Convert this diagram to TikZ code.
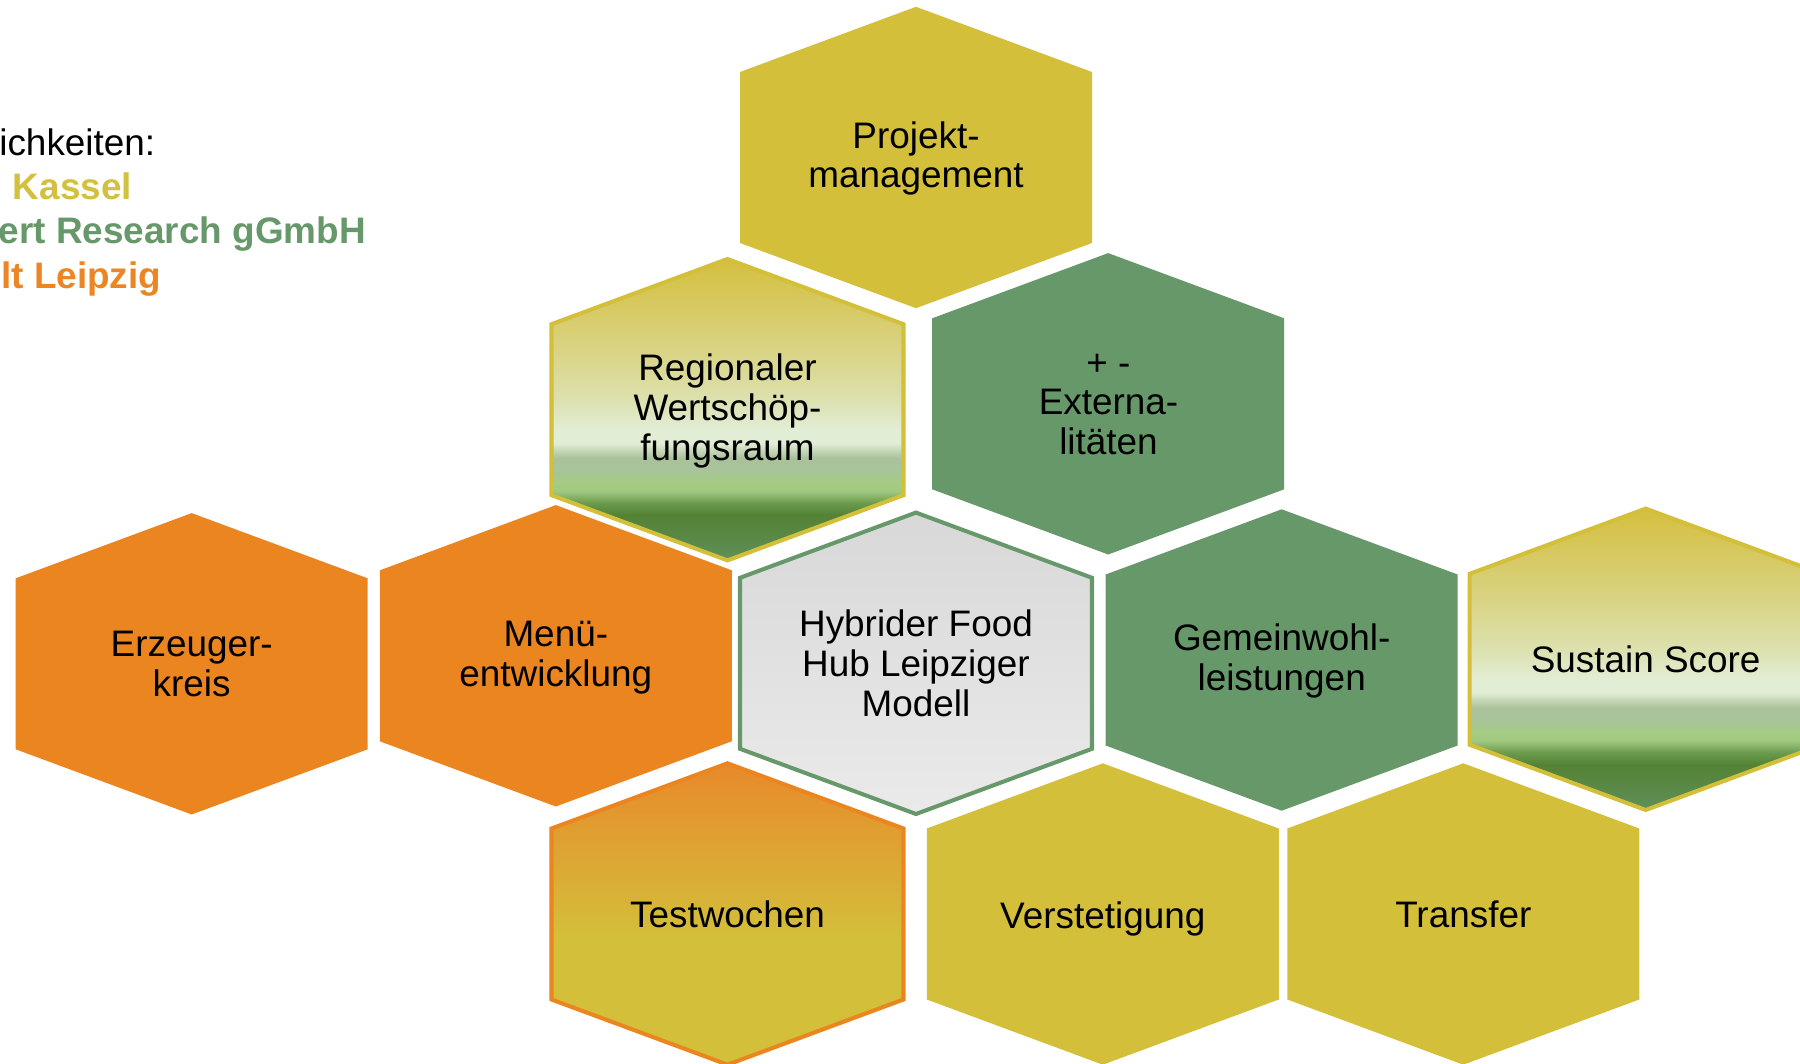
\documentclass[tikz,border=0pt]{standalone}
\usepackage{fontspec}
\setmainfont{Liberation Sans}
\usepackage{xcolor}
\usepackage{tikz}

\definecolor{cellYellow}{HTML}{D3BF3A}
\definecolor{cellGreen}{HTML}{67986A}
\definecolor{cellOrange}{HTML}{EB851F}
\definecolor{orangeTop}{HTML}{E8892A}
\definecolor{hubTop}{HTML}{D8D8D8}
\definecolor{hubBottom}{HTML}{EAEAEA}
\definecolor{legYellow}{HTML}{D4C03F}
\definecolor{legGreen}{HTML}{67986A}
\definecolor{legOrange}{HTML}{EC8624}

% yellow -> light -> green fill of the two score cells
\pgfdeclareverticalshading{regio}{100bp}{%
    color(0bp)=(rgb,255:red,95;green,144;blue,88);
    color(25bp)=(rgb,255:red,95;green,144;blue,88);
    color(32.5bp)=(rgb,255:red,84;green,130;blue,53);
    color(34.5bp)=(rgb,255:red,106;green,154;blue,76);
    color(36.5bp)=(rgb,255:red,160;green,200;blue,128);
    color(37.7bp)=(rgb,255:red,164;green,205;blue,130);
    color(40bp)=(rgb,255:red,169;green,195;blue,154);
    color(42bp)=(rgb,255:red,169;green,194;blue,154);
    color(44.5bp)=(rgb,255:red,226;green,237;blue,214);
    color(46.6bp)=(rgb,255:red,226;green,237;blue,214);
    color(51.6bp)=(rgb,255:red,220;green,225;blue,174);
    color(60bp)=(rgb,255:red,217;green,211;blue,131);
    color(75bp)=(rgb,255:red,212;green,191;blue,62);
    color(100bp)=(rgb,255:red,212;green,191;blue,62)}
% orange -> yellow fill of the test cell
\pgfdeclareverticalshading{testw}{100bp}{%
    color(0bp)=(cellYellow); color(46bp)=(cellYellow);
    color(75bp)=(orangeTop); color(100bp)=(orangeTop)}

\begin{document}
\begin{tikzpicture}[
        x=0.02cm, y=-0.02cm,
        hexcell/.style={insert path={++(0,-150.7) -- ++(176,65.2) -- ++(0,171)
            -- ++(-176,65.2) -- ++(-176,-65.2) -- ++(0,-171) -- cycle}},
        yellowcell/.style={fill=cellYellow},
        greencell/.style={fill=cellGreen},
        orangecell/.style={fill=cellOrange},
        scorecell/.style={shade, shading=regio, draw=cellYellow, line width=2.3pt},
        hubcell/.style={top color=hubTop, bottom color=hubBottom, draw=cellGreen, line width=2.3pt},
        testcell/.style={shade, shading=testw, draw=cellOrange, line width=2.3pt},
        celltext/.style={align=center, inner sep=0pt, font=\fontsize{21}{22.7}\selectfont},
        legend/.style={anchor=base west, inner sep=0pt, font=\fontsize{21}{24}\selectfont},
    ]
        \useasboundingbox (0,0) rectangle (1800,1064);

        % legend, cut at the left edge
        \node[legend] (legTitle) at (-1,156) {ichkeiten:};
        \node[legend, text=legYellow, font=\fontsize{21}{24}\selectfont\bfseries] (legKassel) at (12.5,199.3) {Kassel};
        \node[legend, text=legGreen, font=\fontsize{21}{24}\selectfont\bfseries] (legResearch) at (-1.5,244) {ert Research gGmbH};
        \node[legend, text=legOrange, font=\fontsize{21}{24}\selectfont\bfseries] (legLeipzig) at (1,288.5) {lt Leipzig};

        % top row
        \path[yellowcell] (916,157.5) [hexcell];
        \node[celltext] (proj) at (916,158.5) {Projekt-\\management};

        % second row
        \path[scorecell] (727.5,409.7) [hexcell];
        \node[celltext] (regio) at (727.5,411) {Regionaler\\Wertschöp-\\fungsraum};
        \path[greencell] (1108.2,403.8) [hexcell];
        \node[celltext] (extern) at (1108.5,404.5) {+ -\\Externa-\\litäten};

        % middle row
        \path[orangecell] (191.7,663.8) [hexcell];
        \node[celltext] (erzeuger) at (191.7,663.8) {Erzeuger-\\kreis};
        \path[orangecell] (555.8,655.8) [hexcell];
        \node[celltext] (menue) at (555.8,657.5) {Menü-\\entwicklung};
        \path[hubcell] (916,663.3) [hexcell];
        \node[celltext] (hub) at (916,663.3) {Hybrider Food\\Hub Leipziger\\Modell};
        \path[greencell] (1281.7,660) [hexcell];
        \node[celltext] (gemein) at (1281.7,661) {Gemeinwohl-\\leistungen};
        \path[scorecell] (1645.7,659.3) [hexcell];
        \node[celltext] (sustain) at (1645.7,659.3) {Sustain Score};

        % bottom row
        \path[testcell] (727.5,914) [hexcell];
        \node[celltext] (test) at (727.5,914) {Testwochen};
        \path[yellowcell] (1102.8,914) [hexcell];
        \node[celltext] (verst) at (1102.8,919) {Verstetigung};
        \path[yellowcell] (1463.3,914) [hexcell];
        \node[celltext] (transfer) at (1463.3,914) {Transfer};
    \end{tikzpicture}
\end{document}
